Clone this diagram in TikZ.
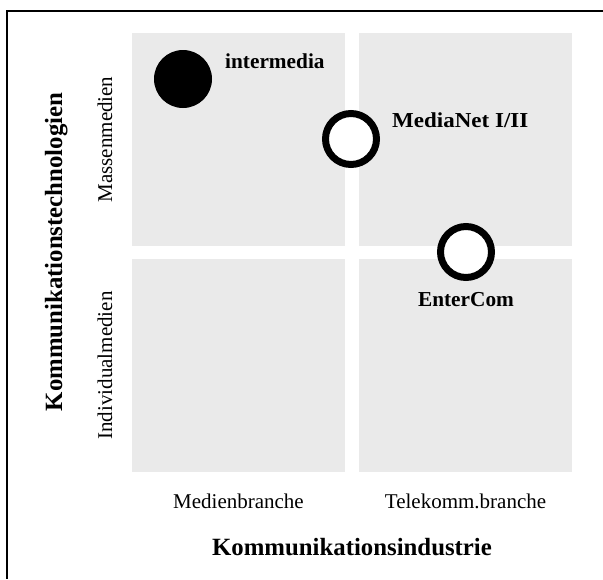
\documentclass[tikz,border=0pt]{standalone}
\usepackage{fontspec}
\setmainfont{Liberation Serif}
\definecolor{quadgray}{RGB}{234,234,234}
\tikzset{
  quad/.style={rectangle, fill=quadgray, minimum width=213pt, minimum height=213pt, inner sep=0pt},
  firmfilled/.style={circle, fill=black, minimum size=58pt, inner sep=0pt},
  firmopen/.style={circle, draw=black, fill=white, line width=7pt, minimum size=51pt, inner sep=0pt},
  firmlabel/.style={font=\fontsize{21.3}{25}\selectfont\bfseries, inner sep=0pt},
  axislabel/.style={font=\fontsize{21}{25}\selectfont, inner sep=0pt},
  axistitle/.style={font=\fontsize{24.8}{29}\selectfont\bfseries, inner sep=0pt},
  frameline/.style={line width=2pt, draw=black}
}
\begin{document}
\begin{tikzpicture}[x=1pt, y=-1pt]
\useasboundingbox (0,0) rectangle (603,579);
% frame
\coordinate (fTR) at (603,11);
\coordinate (fTL) at (7,11);
\coordinate (fBL) at (7,579);
\draw[frameline] (fTR) -- (fTL) -- (fBL);
% quadrants
\node[quad] (qTL) at (238.5,139.5) {};
\node[quad] (qTR) at (465.5,139.5) {};
\node[quad] (qBL) at (238.5,365.5) {};
\node[quad] (qBR) at (465.5,365.5) {};
% firms
\node[firmfilled] (intermedia) at (183,79) {};
\node[firmopen] (medianet) at (351,139) {};
\node[firmopen] (entercom) at (466,252) {};
\node[firmlabel, anchor=base west] (lintermedia) at (225,68) {intermedia};
\node[firmlabel, anchor=base west] (lmedianet) at (392,127) {\scalebox{1.08}[1]{MediaNet I/II}};
\node[firmlabel, anchor=base] (lentercom) at (466,306) {EnterCom};
% axis labels
\node[axislabel, anchor=base] (medien) at (238.5,508) {Medienbranche};
\node[axislabel, anchor=base] (telekomm) at (465.5,508) {Telekomm.branche};
\node[axistitle, anchor=base] (industrie) at (352,555) {Kommunikationsindustrie};
\node[axislabel, anchor=base, rotate=90] (massen) at (112,139.5) {Massenmedien};
\node[axislabel, anchor=base, rotate=90] (individual) at (112,365.5) {Individualmedien};
\node[axistitle, anchor=base, rotate=90] (technologien) at (62,252) {Kommunikationstechnologien};
\end{tikzpicture}
\end{document}
